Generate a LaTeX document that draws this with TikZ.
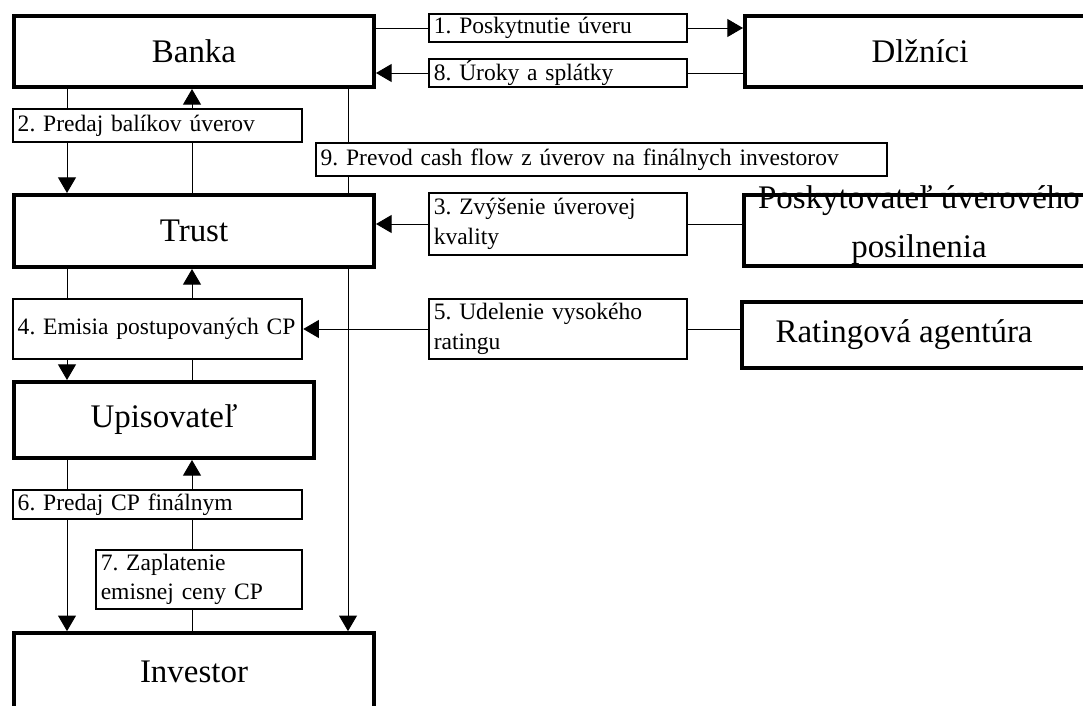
\documentclass[tikz,border=0pt]{standalone}
\usepackage{fontspec}
\setmainfont{Liberation Serif}
\usetikzlibrary{arrows.meta,backgrounds}

\begin{document}
\begin{tikzpicture}[x=0.425pt,y=-0.425pt,
		>={Triangle[width=7.6pt,length=6.6pt]},
		party/.style={draw,fill=white,line width=1.7pt,inner sep=0pt,font=\fontsize{14}{17}\selectfont},
		flow/.style={draw,fill=white,line width=1.1pt,inner xsep=2pt,inner ysep=0pt,align=left,font=\fontsize{10}{12.5}\selectfont\frenchspacing},
		link/.style={line width=0.5pt}]
			\useasboundingbox (0,0) rectangle (1083,706);
			\clip (0,0) rectangle (1083,706);
			\coordinate (goods) at (67,0);
			\coordinate (money) at (192,0);
			\coordinate (cash) at (348,0);
			\node[party,minimum width=153pt,minimum height=30.2pt] (banka) at (194,51.5) {Banka};
			\node[party,minimum width=153pt,minimum height=30.6pt] (trust) at (194,231) {Trust};
			\node[party,minimum width=127.5pt,minimum height=32.3pt] (upis) at (164,420) {Upisovateľ};
			\node[party,minimum width=153pt,minimum height=33pt] (investor) at (194,672) {Investor};
			\node[party,minimum width=148.8pt,minimum height=30.2pt] (dlznici) at (920,51.5) {Dlžníci};
			\node[party,minimum width=148.8pt,minimum height=30.2pt] (posk) at (919,230.5) {\smash{\raisebox{-1.2pt}{\begin{tabular}{@{}c@{}}Poskytovateľ úverového\\[4pt]posilnenia\end{tabular}}}};
			\node[party,minimum width=148.8pt,minimum height=28pt] (rating) at (917,335) {Ratingová agentúra\hspace*{11pt}};
			\node[flow,text width=105.6pt,minimum height=11.9pt] (l1) at (558,28) {1. Poskytnutie úveru};
			\node[flow,text width=105.6pt,minimum height=11.9pt] (l8) at (558,73) {8. Úroky a splátky};
			\node[flow,text width=118.8pt,minimum height=14pt] (l2) at (157.5,125.5) {2. Predaj balíkov úverov};
			\node[flow,text width=238.7pt,minimum height=14pt] (l9) at (601.5,159.5) {9. Prevod cash flow z úverov na finálnych investorov};
			\node[flow,text width=105.6pt,minimum height=26.4pt] (l3) at (558,224) {3. Zvýšenie úverovej\\kvality};
			\node[flow,text width=118.8pt,minimum height=25.5pt] (l4) at (157.5,329) {4. Emisia postupovaných CP};
			\node[flow,text width=105.6pt,minimum height=25.5pt] (l5) at (558,329) {5. Udelenie vysokého\\ratingu};
			\node[flow,text width=118.8pt,minimum height=12.3pt] (l6) at (157.5,504.5) {6. Predaj CP finálnym};
			\node[flow,text width=83.5pt,minimum height=25pt] (l7) at (199,579.5) {7. Zaplatenie\\emisnej ceny CP};
			\begin{scope}[on background layer,link]
				\draw[->] (l1.west -| banka.east) -- (l1.east -| dlznici.west);
				\draw[->] (l8.east -| dlznici.west) -- (l8.west -| banka.east);
				\draw[->] (banka.south -| goods) -- (trust.north -| goods);
				\draw[->] (trust.north -| money) -- (banka.south -| money);
				\draw[->] (banka.south -| cash) -- (investor.north -| cash);
				\draw[->] (l3.east -| posk.west) -- (l3.west -| trust.east);
				\draw[->] (trust.south -| goods) -- (upis.north -| goods);
				\draw[->] (upis.north -| money) -- (trust.south -| money);
				\draw[->] (l5.east -| rating.west) -- (l4.east);
				\draw[->] (upis.south -| goods) -- (investor.north -| goods);
				\draw[->] (investor.north -| money) -- (upis.south -| money);
			\end{scope}
		\end{tikzpicture}
\end{document}
